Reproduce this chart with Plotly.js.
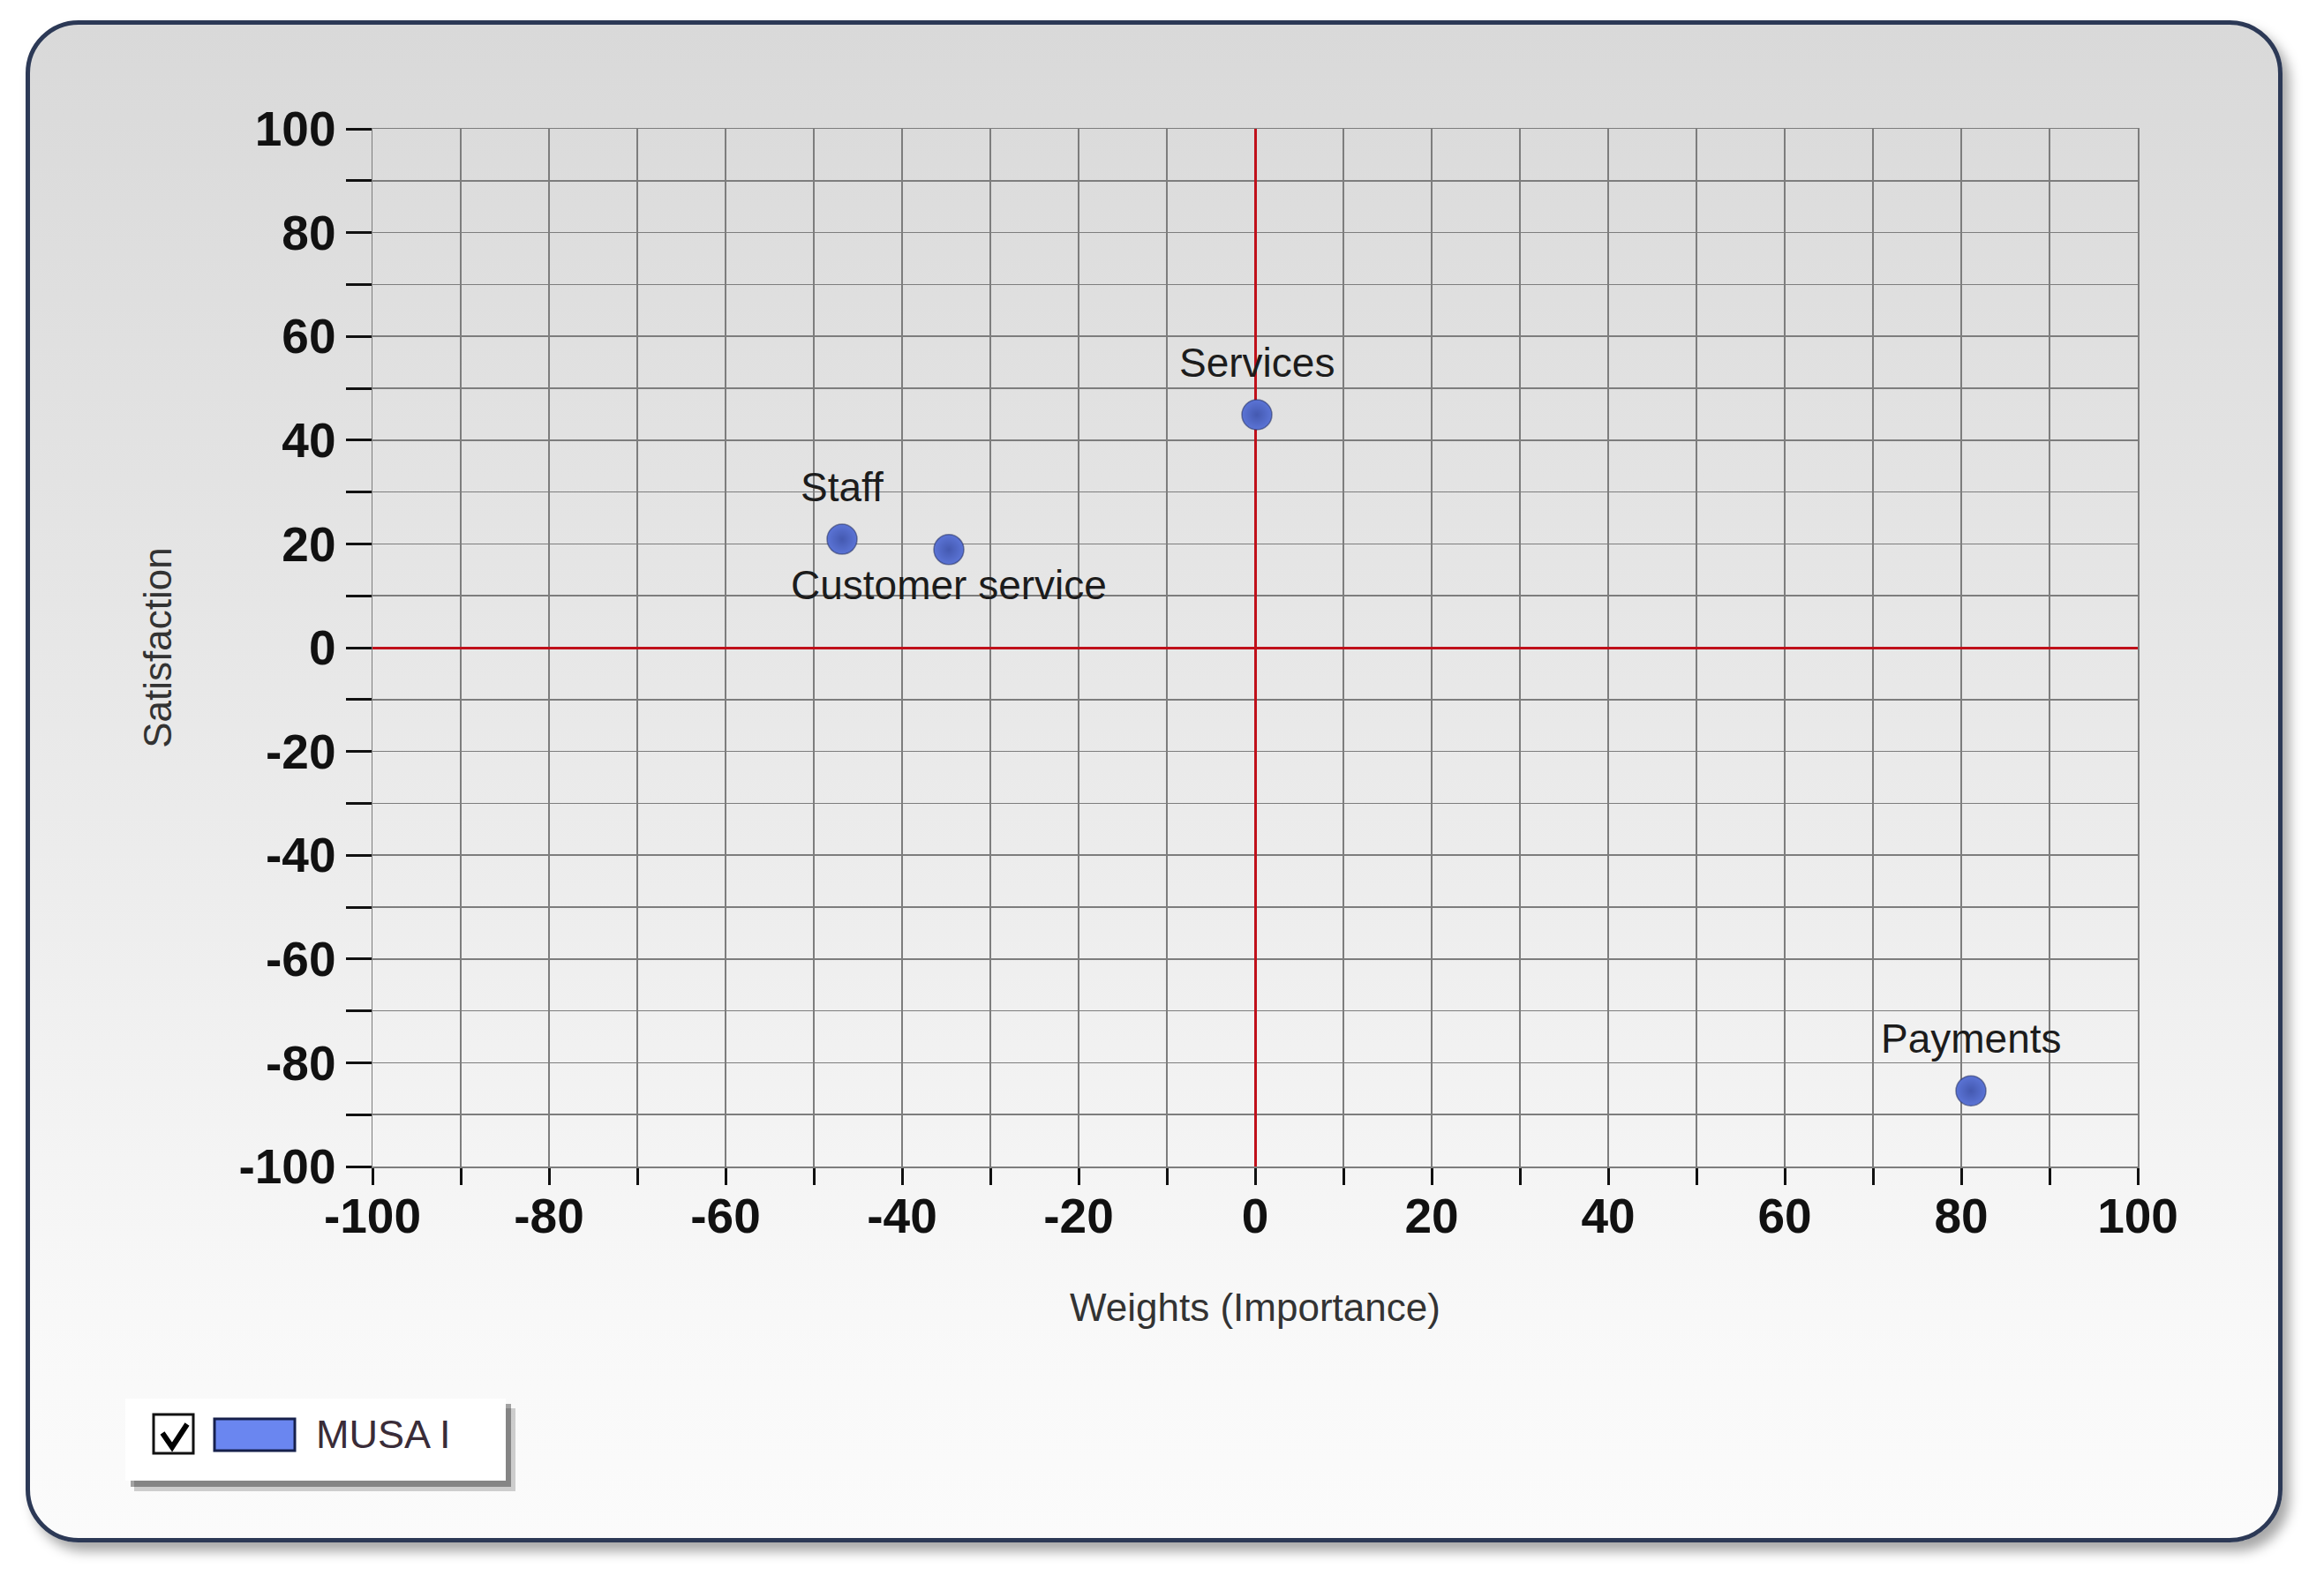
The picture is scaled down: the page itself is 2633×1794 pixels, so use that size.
<!DOCTYPE html>
<html>
<head>
<meta charset="utf-8">
<script src="https://cdn.plot.ly/plotly-3.0.1.min.js"></script>
<style>
	html, body { margin:0; padding:0; background:#ffffff; }
	#panel {
		position:absolute; left:29px; top:23px; width:2547px; height:1715px;
		border:5px solid #2c3956; border-radius:60px;
		background:linear-gradient(#d9d9d9 0%, #e3e3e3 30%, #eeeeee 60%, #f8f8f8 85%, #fbfbfb 100%);
		box-shadow:8px 10px 14px rgba(0,0,0,0.35);
	}
	#chart { position:absolute; left:0; top:0; width:2633px; height:1794px; }
</style>
</head>
<body>
<div id="panel"></div>
<div id="chart"></div>
<script>
// data
const aspects = ['Staff', 'Customer service', 'Services', 'Payments'];
const weights = [-46.8, -34.7, 0.2, 81.1];
const satisfaction = [20.9, 18.9, 44.9, -85.4];
const axisTicks = [-100, -80, -60, -40, -20, 0, 20, 40, 60, 80, 100];
const seriesName = 'MUSA I';
const xTitle = 'Weights (Importance)';
const yTitle = 'Satisfaction';

const chart = (() => {
	const W = 2633, H = 1794;
	const plotL = 422, plotR = 2422, plotT = 146, plotB = 1322;
	// label under the point instead of over it
	const below = ['Customer service'];

	// pixel -> paper coords, for the hand drawn legend box
	const px = (p) => (p - plotL) / (plotR - plotL);
	const py = (p) => (plotB - p) / (plotB - plotT);

	const rect = (x0, y0, x1, y1, fill, line, lw) => ({
		type:'rect', xref:'paper', yref:'paper', layer:'above',
		x0:px(x0), x1:px(x1), y0:py(y0), y1:py(y1),
		fillcolor:fill, line:{color:line, width:lw}
	});

	const legendShapes = () => {
		let check = 'M' + px(184) + ',' + py(1624) + ' L' + px(195) + ',' + py(1640) + ' L' + px(212) + ',' + py(1614);
		return [
			rect(152, 1596, 584, 1690, 'rgba(0,0,0,0.18)', 'rgba(0,0,0,0)', 0),
			rect(148, 1591, 579, 1685, 'rgba(0,0,0,0.35)', 'rgba(0,0,0,0)', 0),
			rect(142, 1585, 573, 1678, '#ffffff', 'rgba(0,0,0,0)', 0),
			rect(174, 1603, 219, 1647, '#ffffff', '#111111', 3),
			{type:'path', xref:'paper', yref:'paper', layer:'above', path:check, line:{color:'#000000', width:6}},
			rect(243, 1608, 334, 1644, '#6a86f0', '#16204c', 3)
		];
	};

	const axisBase = (len) => ({
		range:[-100, 100],
		// plain hyphen in the labels, like the original
		tickmode:'array', tickvals:axisTicks, ticktext:axisTicks.map(v => String(v)),
		ticks:'outside', ticklen:len, tickwidth:3, tickcolor:'#111111',
		minor:{tickmode:'linear', tick0:0, dtick:10, ticks:'outside', ticklen:len, tickwidth:3, tickcolor:'#111111',
			showgrid:true, gridcolor:'#7d7d7d', gridwidth:1.5},
		showgrid:true, gridcolor:'#7d7d7d', gridwidth:1.5,
		zeroline:true, zerolinecolor:'#c0101a', zerolinewidth:3,
		showline:true, linecolor:'#7d7d7d', linewidth:1.5, mirror:true,
		tickfont:{family:'Liberation Sans, Arial, sans-serif', size:55, color:'#111111', weight:700},
		automargin:false, fixedrange:true
	});

	const main = () => {
		let trace = {
			x:weights, y:satisfaction, text:aspects, name:seriesName,
			type:'scatter', mode:'markers', showlegend:false, hoverinfo:'text',
			marker:{size:34, color:'#5b74d6', gradient:{type:'radial', color:'#4459b0'},
				line:{color:'rgba(35,45,95,0.55)', width:1.5}}
		};

		let labels = aspects.map((name, i) => ({
			x:weights[i], y:satisfaction[i], xref:'x', yref:'y',
			text:name, showarrow:false,
			yshift:below.includes(name) ? -40 : 59,
			font:{family:'Liberation Sans, Arial, sans-serif', size:46, color:'#1c1c1c'}
		}));

		labels.push({
			xref:'paper', yref:'paper', x:px(356), y:py(1625), xanchor:'left', yanchor:'middle',
			text:seriesName, showarrow:false,
			font:{family:'Liberation Sans, Arial, sans-serif', size:45, color:'#3a2c38'}
		});

		let xaxis = axisBase(19);
		xaxis.ticklabelstandoff = -12;
		xaxis.title = {text:xTitle, standoff:58,
			font:{family:'Liberation Sans, Arial, sans-serif', size:44, color:'#333333'}};

		let yaxis = axisBase(29);
		yaxis.title = {text:yTitle, standoff:62,
			font:{family:'Liberation Sans, Arial, sans-serif', size:44, color:'#333333'}};

		let layout = {
			width:W, height:H,
			margin:{l:plotL, r:W - plotR, t:plotT, b:H - plotB, pad:0},
			paper_bgcolor:'rgba(0,0,0,0)', plot_bgcolor:'rgba(0,0,0,0)',
			xaxis:xaxis, yaxis:yaxis,
			shapes:legendShapes(), annotations:labels,
			showlegend:false
		};

		Plotly.newPlot('chart', [trace], layout, {displayModeBar:false, staticPlot:true});
	};

	return {main};
})();

chart.main();
</script>
</body>
</html>
